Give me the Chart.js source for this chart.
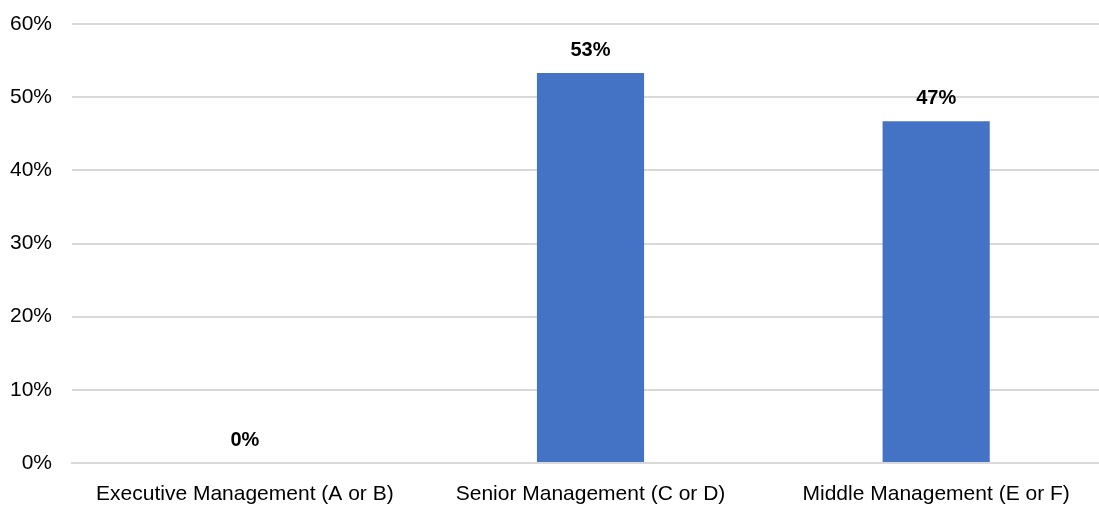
<!DOCTYPE html>
<html>
<head>
<meta charset="utf-8">
<script src="https://cdn.jsdelivr.net/npm/chart.js@4/dist/chart.umd.min.js"></script>
<style>
  html, body { margin: 0; padding: 0; background: #fff; }
  #wrap { width: 1099px; height: 508px; }
</style>
</head>
<body>
<div id="wrap"><canvas id="chart"></canvas></div>
<script>
const categories = ['Executive Management (A or B)', 'Senior Management (C or D)', 'Middle Management (E or F)'];
const shares = [0, 53.3, 46.7];
const pointLabels = ['0%', '53%', '47%'];
const yTicks = [0, 10, 20, 30, 40, 50, 60];

const FONT = '"Liberation Sans", Arial, sans-serif';

// draws the bold value above each bar
const barLabels = {
    id: 'barLabels',
    afterDatasetsDraw(chart) {
        const ctx = chart.ctx;
        const meta = chart.getDatasetMeta(0);
        ctx.save();
        ctx.font = 'bold 20px ' + FONT;
        ctx.fillStyle = '#000';
        ctx.textAlign = 'center';
        ctx.textBaseline = 'bottom';
        meta.data.forEach((bar, i) => {
            ctx.fillText(pointLabels[i], bar.x, bar.y - 13);
        });
        ctx.restore();
    }
};

// the source picture is cropped on the right: let the category axis run past the edge
const stretchX = {
    id: 'stretchX',
    afterLayout(chart) {
        const x = chart.scales.x;
        x.right += 10;
        x.width = x.right - x.left;
        x.configure();
    }
};

new Chart(document.getElementById('chart'), {
    type: 'bar',
    data: {
        labels: categories,
        datasets: [{
            data: shares,
            backgroundColor: '#4472C4',
            categoryPercentage: 1,
            barPercentage: 0.31
        }]
    },
    options: {
        responsive: true,
        maintainAspectRatio: false,
        animation: false,
        layout: { padding: { top: 24, right: 0, left: 10, bottom: 0 } },
        plugins: {
            legend: { display: false },
            tooltip: { enabled: false }
        },
        scales: {
            x: {
                grid: { display: false },
                border: { color: '#d9d9d9', width: 2 },
                afterFit: (axis) => { axis.height = 45; },
                ticks: {
                    color: '#000',
                    font: { family: FONT, size: 21 },
                    padding: 11,
                    maxRotation: 0,
                    autoSkip: false
                }
            },
            y: {
                min: 0,
                max: 60,
                afterBuildTicks: (axis) => { axis.ticks = yTicks.map(v => ({ value: v })); },
                afterFit: (axis) => {
                    axis.width = 62;
                    axis.paddingTop = 0;
                    axis.paddingBottom = 0;
                },
                grid: { color: '#d9d9d9', lineWidth: 2, drawTicks: false },
                border: { display: false },
                ticks: {
                    color: '#000',
                    font: { family: FONT, size: 21 },
                    padding: 20,
                    callback: (v) => v + '%'
                }
            }
        }
    },
    plugins: [barLabels, stretchX]
});
</script>
</body>
</html>
